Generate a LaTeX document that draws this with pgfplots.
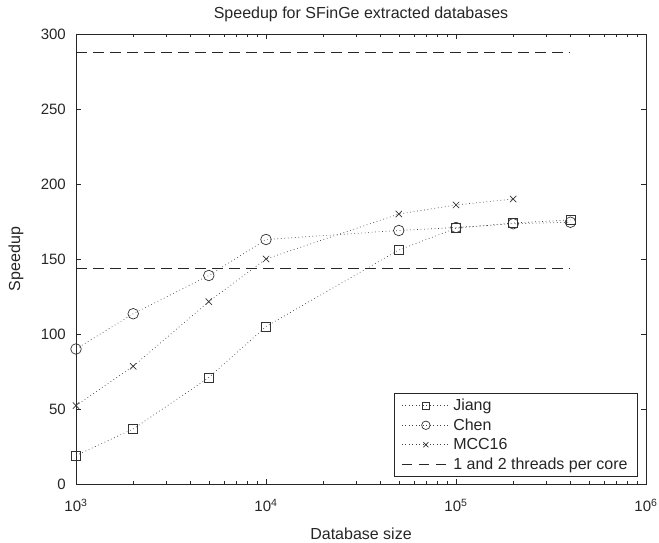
\documentclass[border=0pt]{standalone}
\usepackage{fontspec}
\setmainfont{Liberation Sans}
\usepackage{pgfplots}
\pgfplotsset{compat=1.18}
\definecolor{axgray}{HTML}{262626}
\definecolor{mk}{HTML}{333333}
\begin{document}
\begin{tikzpicture}
\useasboundingbox (-76pt,-59pt) rectangle (583pt,484pt);
\begin{axis}[
  scale only axis, width=570pt, height=450pt,
  xmode=log, xmin=1e3, xmax=1e6, ymin=0, ymax=300,
  xtick={1e3,1e4,1e5,1e6},
  xticklabels={10\textsuperscript{3},10\textsuperscript{4},10\textsuperscript{5},10\textsuperscript{6}},
  ytick={0,50,100,150,200,250,300},
  /pgf/number format/assume math mode=true,
  tick align=inside, major tick length=5pt, minor tick length=2.7pt,
  axis line style={axgray, line width=0.8pt},
  every tick/.style={axgray, line width=0.6pt},
  tick label style={font=\fontsize{15}{18}\selectfont, text=axgray},
  xticklabel style={anchor=base, yshift=-28pt, inner sep=0pt},
  yticklabel style={anchor=east, xshift=-10pt, inner sep=0pt},
  title={Speedup for SFinGe extracted databases},
  title style={at={(axis description cs:0.5,1.02)}, anchor=base, inner sep=0pt, font=\fontsize{16}{19}\selectfont, text=axgray},
  xlabel={Database size},
  xlabel style={at={(axis description cs:0.5,-0.1244)}, anchor=base, inner sep=0pt, font=\fontsize{16}{19}\selectfont, text=axgray},
  ylabel={Speedup},
  ylabel style={at={(axis description cs:-0.0982,0.5)}, anchor=base, inner sep=0pt, font=\fontsize{16}{19}\selectfont, text=axgray},
  legend style={at={(axis description cs:0.986,0.0156)}, anchor=south east, draw=axgray, line width=0.8pt, fill=white, font=\fontsize{16}{19}\selectfont, text=axgray, inner xsep=7pt, inner ysep=2.5pt, nodes={inner xsep=3pt, inner ysep=3.3pt}, cells={anchor=west}},
  legend image code/.code={\draw[mark repeat=2,mark phase=2,#1, every mark/.append style={scale=0.8}] plot coordinates {(0pt,0pt)(24pt,0pt)(48pt,0pt)};},
]
\addplot[color=black!75, line width=0.7pt, dash pattern=on 0.7pt off 2.8pt, mark=square, mark size=4.5pt, mark options={solid, mk, line width=0.7pt}]
  coordinates {(1000,19) (2000,36.7) (5000,71) (10000,105) (50000,156) (100000,170.5) (200000,174) (400000,176)};
\addlegendentry{Jiang}
\addplot[color=black!75, line width=0.7pt, dash pattern=on 0.7pt off 2.8pt, mark=o, mark size=5.3pt, mark options={solid, mk, line width=0.7pt}]
  coordinates {(1000,90) (2000,113.5) (5000,139) (10000,163) (50000,169) (100000,171) (200000,173.5) (400000,174.5)};
\addlegendentry{Chen}
\addplot[color=black!75, line width=0.7pt, dash pattern=on 0.7pt off 2.8pt, mark=x, mark size=4.5pt, mark options={solid, mk, line width=0.7pt}]
  coordinates {(1000,52.3) (2000,78.5) (5000,121.6) (10000,150) (50000,180) (100000,186) (200000,190)};
\addlegendentry{MCC16}
\addplot[axgray, line width=0.8pt, dash pattern=on 10.5pt off 6.5pt]
  coordinates {(1000,144) (400000,144)};
\addlegendentry{1 and 2 threads per core}
\addplot[axgray, line width=0.8pt, dash pattern=on 10.5pt off 6.5pt, forget plot]
  coordinates {(1000,288) (400000,288)};
\end{axis}
\end{tikzpicture}
\end{document}
